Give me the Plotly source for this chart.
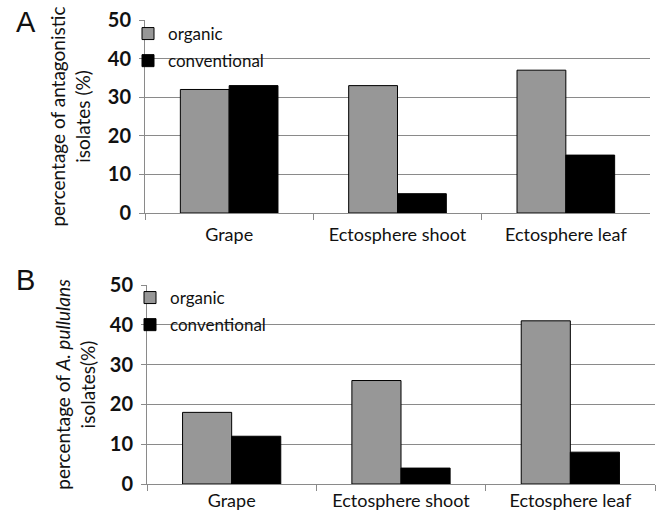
import plotly.graph_objects as go

categories = ["Grape", "Ectosphere shoot", "Ectosphere leaf"]
a_organic = [32, 33, 37]
a_conventional = [33, 5, 15]
b_organic = [18, 26, 41]
b_conventional = [12, 4, 8]
y_ticks = [0, 10, 20, 30, 40, 50]

FONT = "Lato"
ORG = "#979797"
CONV = "#000000"
GRID = "#8a8a8a"

fig = go.Figure()
fig.add_trace(go.Bar(x=categories, y=a_organic, name="organic", marker=dict(color=ORG, line=dict(color="black", width=1)),
                     xaxis="x", yaxis="y", legend="legend", legendgroup="a1"))
fig.add_trace(go.Bar(x=categories, y=a_conventional, name="conventional", marker=dict(color=CONV, line=dict(color="black", width=1)),
                     xaxis="x", yaxis="y", legend="legend", legendgroup="a2"))
fig.add_trace(go.Bar(x=categories, y=b_organic, name="organic", marker=dict(color=ORG, line=dict(color="black", width=1)),
                     xaxis="x2", yaxis="y2", legend="legend2", legendgroup="b1"))
fig.add_trace(go.Bar(x=categories, y=b_conventional, name="conventional", marker=dict(color=CONV, line=dict(color="black", width=1)),
                     xaxis="x2", yaxis="y2", legend="legend2", legendgroup="b2"))

xcommon = dict(type="category", automargin=False, showline=True, linecolor=GRID, linewidth=1, ticks="outside",
               tickson="boundaries", ticklen=6, tickcolor=GRID,
               tickfont=dict(family=FONT, size=18, color="#111"), showgrid=False)
ycommon = dict(range=[0, 50], automargin=False, tickvals=y_ticks, showline=True, linecolor=GRID, linewidth=1,
               ticks="outside", ticklen=5, tickcolor=GRID, showgrid=True, gridcolor=GRID, gridwidth=1, zeroline=False,
               ticklabelstandoff=4, tickfont=dict(family=FONT, size=20, color="#111", weight="bold"))

legcommon = dict(font=dict(family=FONT, size=17, color="#111"), bgcolor="rgba(0,0,0,0)", traceorder="grouped",
                 tracegroupgap=2, xanchor="left", yanchor="top", itemclick=False)

fig.update_layout(
    width=661, height=514, margin=dict(l=0, r=0, t=0, b=0, autoexpand=False),
    paper_bgcolor="white", plot_bgcolor="white",
    barmode="group", bargap=0.42, bargroupgap=0,
    xaxis=dict(domain=[145/661, 650/661], anchor="y", ticklabelstandoff=5, **xcommon),
    yaxis=dict(domain=[1-213/514, 1-20/514], anchor="x",
               title=dict(text="percentage of antagonistic<br>isolates (%)", font=dict(family=FONT, size=19, color="#111"), standoff=12),
               **ycommon),
    xaxis2=dict(domain=[147/661, 655/661], anchor="y2", ticklabelstandoff=0, **xcommon),
    yaxis2=dict(domain=[1-484/514, 1-285/514], anchor="x2",
                title=dict(text="percentage of <i>A. pullulans</i><br>isolates(%)", font=dict(family=FONT, size=19, color="#111"), standoff=9),
                **ycommon),
    legend=dict(x=128/661, y=1-16/514, **legcommon),
    legend2=dict(x=130/661, y=1-280/514, **legcommon),
    showlegend=True,
    annotations=[
        dict(text="A", x=14/661, y=1-4/514, xref="paper", yref="paper", xanchor="left", yanchor="top", showarrow=False,
             font=dict(family="Liberation Sans", size=29, color="#111")),
        dict(text="B", x=14/661, y=1-262/514, xref="paper", yref="paper", xanchor="left", yanchor="top", showarrow=False,
             font=dict(family="Liberation Sans", size=29, color="#111")),
    ],
)

fig.write_html("out.html", config={"displayModeBar": False},
               post_script="document.body.style.margin='0';document.body.style.overflow='hidden';")
